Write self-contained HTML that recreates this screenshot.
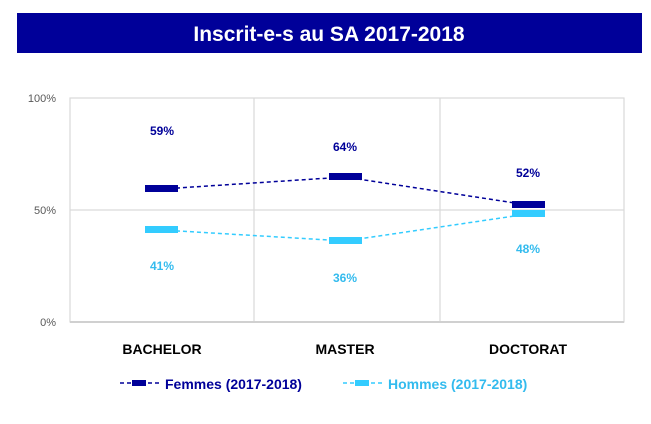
<!DOCTYPE html><html><head><style>body{margin:0;background:#fff;width:651px;height:419px;overflow:hidden}</style></head><body>
<svg width="651" height="419" xmlns="http://www.w3.org/2000/svg" font-family="Liberation Sans, sans-serif">
<rect x="17" y="13" width="625" height="40" fill="#000099"/>
<text x="329" y="41" text-anchor="middle" fill="#fff" font-weight="bold" font-size="21">Inscrit-e-s au SA 2017-2018</text>
<g stroke="#d9d9d9" stroke-width="1.2" fill="none">
<rect x="70" y="98" width="554" height="224"/>
<line x1="254" y1="98" x2="254" y2="322"/><line x1="440" y1="98" x2="440" y2="322"/>
<line x1="70" y1="210" x2="624" y2="210"/></g>
<line x1="70" y1="322" x2="624" y2="322" stroke="#d0d0d0" stroke-width="2"/>
<g fill="#595959" font-size="11" text-anchor="end"><text x="56" y="102">100%</text><text x="56" y="214">50%</text><text x="56" y="326">0%</text></g>
<polyline points="162,189 345,177 528,205" fill="none" stroke="#000099" stroke-width="1.5" stroke-dasharray="4,3"/>
<polyline points="162,230 345,241 528,214" fill="none" stroke="#33CCFF" stroke-width="1.5" stroke-dasharray="4,3"/>
<g fill="#000099"><rect x="145" y="185" width="33" height="7"/><rect x="329" y="173" width="33" height="7"/><rect x="512" y="201" width="33" height="7"/></g>
<g fill="#33CCFF"><rect x="145" y="226" width="33" height="7"/><rect x="329" y="237" width="33" height="7"/><rect x="512" y="210" width="33" height="7"/></g>
<g font-weight="bold" font-size="12" text-anchor="middle" fill="#000099"><text x="162" y="135">59%</text><text x="345" y="151">64%</text><text x="528" y="177">52%</text></g>
<g font-weight="bold" font-size="12" text-anchor="middle" fill="#33BBEE"><text x="162" y="270">41%</text><text x="345" y="282">36%</text><text x="528" y="253">48%</text></g>
<g font-weight="bold" font-size="14" text-anchor="middle" fill="#000"><text x="162" y="354">BACHELOR</text><text x="345" y="354">MASTER</text><text x="528" y="354">DOCTORAT</text></g>
<line x1="120" y1="383" x2="160" y2="383" stroke="#000099" stroke-width="1.5" stroke-dasharray="4,3"/><rect x="132" y="380" width="14" height="6" fill="#000099"/>
<text x="165" y="389" font-size="14" font-weight="bold" fill="#000099">Femmes (2017-2018)</text>
<line x1="343" y1="383" x2="383" y2="383" stroke="#33CCFF" stroke-width="1.5" stroke-dasharray="4,3"/><rect x="355" y="380" width="14" height="6" fill="#33CCFF"/>
<text x="388" y="389" font-size="14" font-weight="bold" fill="#33BBEE">Hommes (2017-2018)</text>
</svg></body></html>
